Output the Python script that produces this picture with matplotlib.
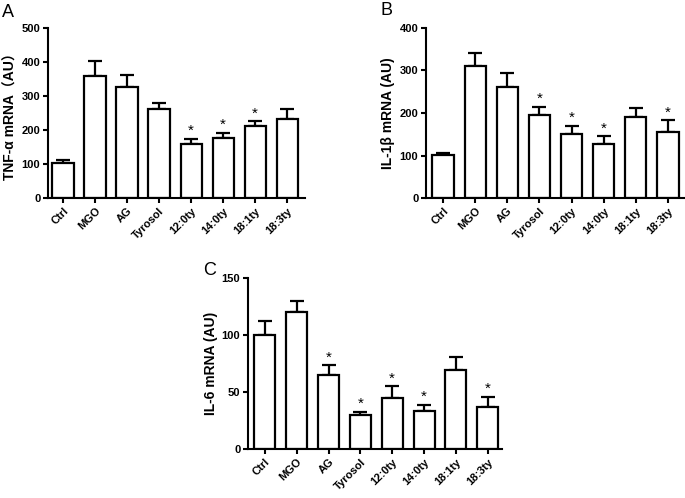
import matplotlib
matplotlib.use("Agg")
import matplotlib.pyplot as plt
import numpy as np

plt.rcParams['font.family'] = ['Liberation Sans', 'DejaVu Sans', 'Noto Sans CJK SC']

categories = ["Ctrl", "MGO", "AG", "Tyrosol", "12:0ty", "14:0ty", "18:1ty", "18:3ty"]

tnf_mean = [103, 360, 326, 263, 160, 176, 211, 233]
tnf_err = [8, 44, 37, 16, 14, 15, 14, 29]
tnf_sig = [False, False, False, False, True, True, True, False]

il1b_mean = [102, 311, 261, 196, 151, 127, 191, 155]
il1b_err = [5, 29, 33, 18, 19, 18, 21, 28]
il1b_sig = [False, False, False, True, True, True, False, True]

il6_mean = [100, 120, 64.7, 29.6, 44.5, 33.7, 68.9, 37.2]
il6_err = [12.5, 10, 8.8, 3.2, 10.5, 5.3, 11.7, 8.5]
il6_sig = [False, False, True, True, True, True, False, True]

W, H = 685, 498
fig = plt.figure(figsize=(W / 100, H / 100), dpi=100)


def px_axes(left, right, top, bottom):
    return fig.add_axes([left / W, 1 - bottom / H, (right - left) / W, (bottom - top) / H])


def panel(ax, means, errs, sig, ymax, step, ylabel, xlim):
    x = np.arange(len(categories))
    ax.bar(x, means, width=0.66, color='white', edgecolor='black', linewidth=1.6, zorder=2)
    ax.errorbar(x, means, yerr=[np.zeros(len(errs)), errs], fmt='none', ecolor='black',
                elinewidth=1.6, capsize=4.7, capthick=1.6, zorder=1)
    for xi, m, e, s in zip(x, means, errs, sig):
        if s:
            ax.text(xi, m + e + ymax * 0.005, '*', ha='center', va='bottom', fontsize=11)
    ax.set_ylim(0, ymax)
    ax.set_xlim(*xlim)
    ax.set_yticks(np.arange(0, ymax + 1, step))
    ax.set_xticks(x)
    ax.set_xticklabels(categories, rotation=45, ha='right', rotation_mode='anchor',
                       fontweight='bold', fontsize=8)
    for lab in ax.get_yticklabels():
        lab.set_fontweight('bold')
        lab.set_fontsize(8)
    ax.spines['top'].set_visible(False)
    ax.spines['right'].set_visible(False)
    ax.spines['left'].set_linewidth(1.5)
    ax.spines['bottom'].set_linewidth(1.5)
    ax.tick_params(axis='both', direction='out', length=3.5, width=1.5, pad=2)
    ax.set_ylabel(ylabel, fontweight='bold', fontsize=10, labelpad=3)


axA = px_axes(48, 305, 28, 198)
panel(axA, tnf_mean, tnf_err, tnf_sig, 500, 100, 'TNF-α mRNA（AU）', (-0.47, 7.56))

axB = px_axes(426, 685, 28, 198)
panel(axB, il1b_mean, il1b_err, il1b_sig, 400, 100, 'IL-1β mRNA (AU)', (-0.53, 7.53))

axC = px_axes(248, 502, 278, 449)
panel(axC, il6_mean, il6_err, il6_sig, 150, 50, 'IL-6 mRNA (AU)', (-0.53, 7.45))

fig.text(2 / W, 1 - 4 / H, 'A', fontsize=13, va='top', ha='left')
fig.text(380 / W, 1 - 2 / H, 'B', fontsize=13, va='top', ha='left')
fig.text(203 / W, 1 - 262 / H, 'C', fontsize=13, va='top', ha='left')

fig.savefig('out.png', dpi=100)
